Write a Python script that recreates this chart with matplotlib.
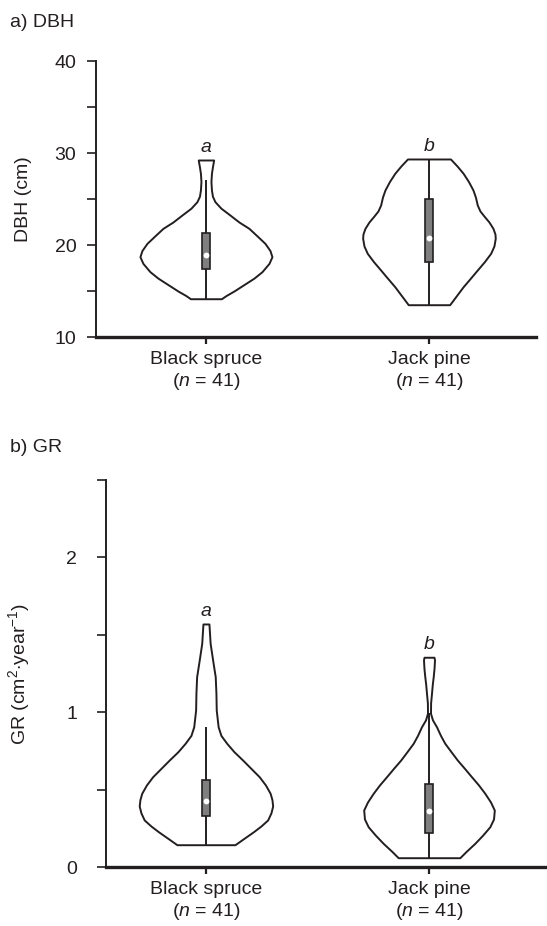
import numpy as np
import matplotlib
matplotlib.use('Agg')
import matplotlib.pyplot as plt
from matplotlib.ticker import FixedLocator

plt.rcParams['font.family'] = ['Liberation Sans', 'DejaVu Sans']
plt.rcParams['mathtext.fontset'] = 'custom'
plt.rcParams['mathtext.rm'] = 'Liberation Sans'
plt.rcParams['mathtext.it'] = 'Liberation Sans:italic'

INK = '#231f20'
FS = 14

# ---- Data ----
species = ['Black spruce', 'Jack pine']
n_trees = [41, 41]
letters_dbh = ['a', 'b']
letters_gr = ['a', 'b']

# violin outlines: value and half-width (px, 223 px between the two species)
dbh_bs_y = [14.16, 14.5, 15.0, 15.84, 16.4, 17.1, 18.0, 18.73, 19.4, 20.18, 21.0, 21.81,
            22.5, 23.26, 24.0, 24.71, 25.3, 25.98, 26.9, 27.79, 28.5, 29.24]
dbh_bs_w = [15.5, 20, 28, 40, 48, 56, 63, 66, 64, 59, 51, 43,
            33, 24, 15, 9, 6.5, 5.5, 5, 5.5, 6.5, 7.7]
dbh_jp_y = [13.51, 14.5, 15.47, 16.4, 17.28, 18.2, 19.1, 19.9, 20.73, 21.2, 21.81,
            22.5, 23.15, 23.7, 24.35, 25.2, 25.98, 26.9, 27.79, 28.6, 29.35]
dbh_jp_w = [20.7, 27.5, 34.2, 41.5, 48.3, 55.5, 61.7, 65, 66.3, 66, 64,
            60, 55, 51, 48.3, 46.5, 44, 39.5, 34.2, 28, 21.5]
gr_bs_y = [0.144, 0.185, 0.228, 0.265, 0.304, 0.35, 0.394, 0.435, 0.476, 0.53, 0.583,
           0.637, 0.691, 0.745, 0.799, 0.85, 0.906, 1.014, 1.122, 1.229, 1.337, 1.445, 1.57]
gr_bs_w = [29, 38, 47.5, 55, 61.7, 65, 66.7, 66, 64.2, 59.5, 53.3,
           45, 36.7, 28, 20.8, 15, 12.2, 10.3, 10, 9.3, 6.7, 4.2, 3]
gr_jp_y = [0.06, 0.1, 0.153, 0.205, 0.26, 0.31, 0.368, 0.42, 0.476, 0.53, 0.583, 0.637,
           0.691, 0.745, 0.799, 0.85, 0.906, 0.95, 0.993, 1.06, 1.122, 1.18, 1.229, 1.28,
           1.337, 1.355]
gr_jp_w = [30.8, 37, 45.8, 53.5, 60.8, 64.5, 65.3, 61.5, 55.8, 49.5, 42.5, 35.5,
           28.3, 22, 15.8, 11.5, 7.5, 3.5, 1.5, 1.6, 2.5, 3.3, 4.2, 5, 5.5, 5]

# box stats: lower quartile, median, upper quartile, whisker ends
dbh_q1 = [17.42, 18.15]
dbh_med = [18.9, 20.77]
dbh_q3 = [21.34, 24.97]
dbh_lo = [14.16, 13.51]
dbh_hi = [27.1, 29.35]

gr_q1 = [0.331, 0.222]
gr_med = [0.428, 0.364]
gr_q3 = [0.562, 0.536]
gr_lo = [0.144, 0.06]
gr_hi = [0.906, 0.997]

PX = 1 / 223.0
pos = np.arange(len(species))


def draw_panel(ax, outlines, q1, med, q3, lo, hi, letters):
    for p, (yy, ww) in zip(pos, outlines):
        yy = np.array(yy)
        ww = np.array(ww) * PX
        ax.fill_betweenx(yy, p - ww, p + ww, facecolor='white', edgecolor=INK,
                         linewidth=1.4, joinstyle='round', zorder=1)
    ax.vlines(pos, lo, hi, color=INK, linewidth=1.4, zorder=2)
    ax.bar(pos, np.array(q3) - np.array(q1), bottom=q1, width=8.5 * PX,
           color='#7f7f7f', edgecolor=INK, linewidth=1.2, zorder=3)
    ax.plot(pos, med, 'o', color='white', ms=4.2, mec='none', zorder=4)
    for p, (yy, _), lt in zip(pos, outlines, letters):
        ax.annotate(lt, (p, max(yy)), xytext=(0, 6), textcoords='offset points',
                    ha='center', va='baseline', style='italic', fontsize=FS, color=INK)

    ax.spines['top'].set_visible(False)
    ax.spines['right'].set_visible(False)
    ax.spines['left'].set_linewidth(1.4)
    ax.spines['bottom'].set_linewidth(2.4)
    ax.spines['left'].set_color(INK)
    ax.spines['bottom'].set_color(INK)
    ax.set_xticks(pos)
    ax.set_xticklabels([f'{s}\n($n$ = {n})' for s, n in zip(species, n_trees)], fontsize=FS,
                       color=INK)
    ax.tick_params(axis='x', length=5, width=1.6, pad=5, color=INK)
    ax.tick_params(axis='y', which='both', length=6.7, width=1.2, labelsize=FS,
                   color=INK, labelcolor=INK)


fig = plt.figure(figsize=(5.47, 9.26), dpi=100)

# ---- a) DBH ----
ax1 = fig.add_axes([96 / 547, 1 - 337 / 926, 440 / 547, 276 / 926])
draw_panel(ax1, [(dbh_bs_y, dbh_bs_w), (dbh_jp_y, dbh_jp_w)],
           dbh_q1, dbh_med, dbh_q3, dbh_lo, dbh_hi, letters_dbh)
ax1.set_xlim(-0.493, 1.48)
ax1.set_ylim(10, 40)
ax1.set_yticks([10, 20, 30, 40])
ax1.yaxis.set_minor_locator(FixedLocator([15, 25, 35]))
ax1.tick_params(axis='y', which='both', pad=7.5)
ax1.set_ylabel('DBH (cm)', fontsize=FS, color=INK)
ax1.yaxis.set_label_coords((32 - 96) / 440, 0.5)

# ---- b) GR ----
ax2 = fig.add_axes([106 / 547, 1 - 867 / 926, 441 / 547, 387 / 926])
draw_panel(ax2, [(gr_bs_y, gr_bs_w), (gr_jp_y, gr_jp_w)],
           gr_q1, gr_med, gr_q3, gr_lo, gr_hi, letters_gr)
ax2.set_xlim(-0.448, 1.529)
ax2.set_ylim(0, 2.5)
ax2.set_yticks([0, 1, 2])
ax2.yaxis.set_minor_locator(FixedLocator([0.5, 1.5, 2.5]))
ax2.tick_params(axis='y', which='both', pad=14)
ax2.set_ylabel(r'GR (cm$^{\mathrm{2}}$$\cdot$year$^{\mathrm{-1}}$)', fontsize=FS, color=INK)
ax2.yaxis.set_label_coords((32 - 106) / 441, 0.5)

fig.text(10 / 547, 1 - 27 / 926, 'a) DBH', fontsize=FS, color=INK, va='baseline')
fig.text(10 / 547, 1 - 452 / 926, 'b) GR', fontsize=FS, color=INK, va='baseline')

fig.savefig('out.png', dpi=100)
